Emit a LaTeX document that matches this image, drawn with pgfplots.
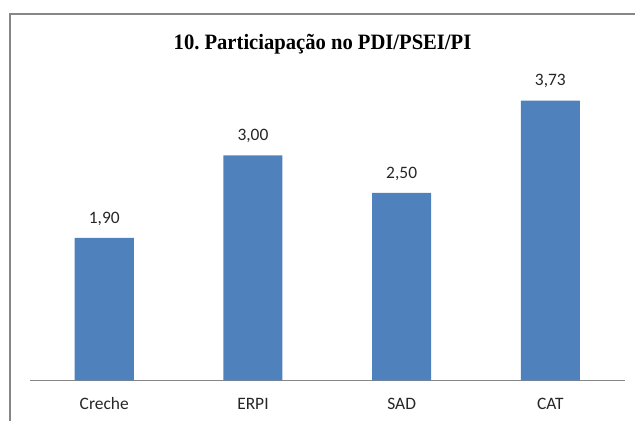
\documentclass[border=0pt]{standalone}
\usepackage{fontspec}
\setmainfont{Carlito}
\newfontfamily\titlefont{Liberation Serif}
\usepackage{pgfplots}
\pgfplotsset{compat=1.18}
\definecolor{barblue}{HTML}{4F81BD}
\definecolor{framegray}{HTML}{868686}
\frenchspacing
\begin{document}
\begin{tikzpicture}
\path[use as bounding box] (0bp,0bp) rectangle (635bp,421bp);
\draw[framegray, line width=1.6bp] (9.8bp,0bp) -- (9.8bp,407bp) -- (635bp,407bp);
\node[font=\titlefont\bfseries\fontsize{22}{24}\selectfont] at (322.5bp,376.5bp)
  {\scalebox{0.94}[1]{10. Particiapação no PDI/PSEI/PI}};
\begin{axis}[
  at={(29.9bp,40.7bp)}, anchor=south west, scale only axis,
  width=594.8bp, height=300bp,
  ybar, bar width=0.397,
  xmin=-0.5, xmax=3.5, ymin=0, ymax=4,
  axis x line=bottom, axis y line=none,
  axis line style={framegray, line width=0.9bp, -},
  xtick=data, xticklabels={Creche,ERPI,SAD,CAT},
  major tick length=0pt,
  ticklabel style={font=\fontsize{17.5}{19}\selectfont, text=black!85},
  xticklabel style={yshift=-14bp},
  nodes near coords,
  nodes near coords style={font=\fontsize{17.5}{19}\selectfont, text=black!85, yshift=9bp},
  /pgf/number format/.cd, fixed, zerofill, precision=2, use comma, assume math mode=true,
]
\addplot[fill=barblue, draw=none] coordinates {(0,1.90) (1,3.00) (2,2.50) (3,3.73)};
\end{axis}
\end{tikzpicture}
\end{document}
